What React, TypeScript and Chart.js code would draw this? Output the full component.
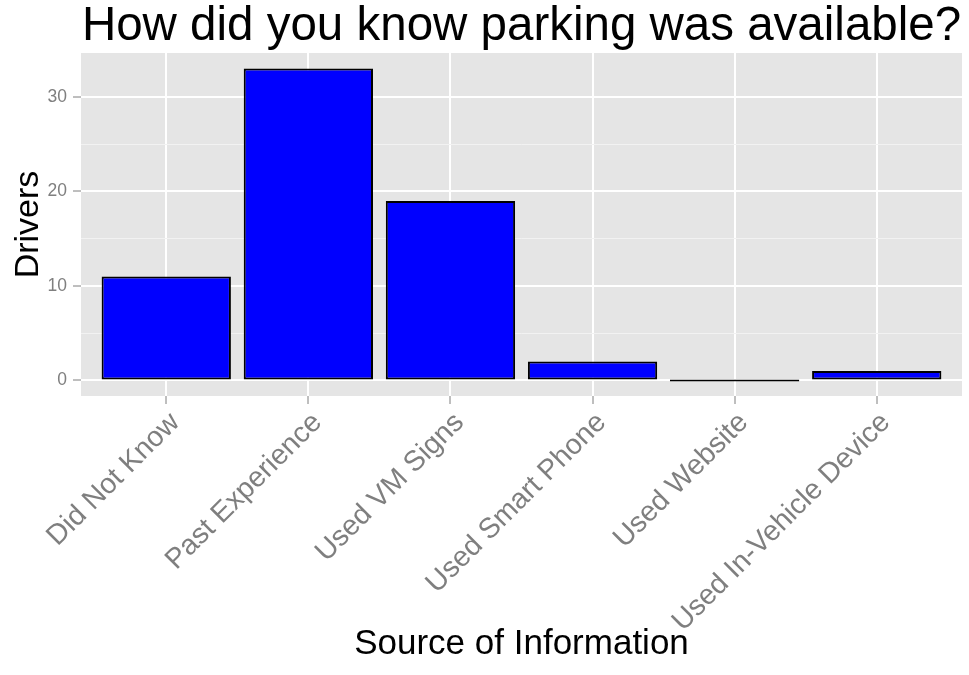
import React, { useEffect, useRef } from 'react';
import { Chart, registerables } from 'chart.js';

Chart.register(...registerables);

const categories = [
  'Did Not Know',
  'Past Experience',
  'Used VM Signs',
  'Used Smart Phone',
  'Used Website',
  'Used In-Vehicle Device',
];
const drivers = [11, 33, 19, 2, 0, 1];
const yTicks = [0, 5, 10, 15, 20, 25, 30];
const yMajor = [0, 10, 20, 30];
const yMin = -1.65;
const yMax = 34.65;
const xMin = -0.6;
const xMax = 5.6;

const FONT = "'Liberation Sans', Arial, Helvetica, sans-serif";

const panelBg = {
  id: 'panelBg',
  beforeDraw(chart: any) {
    const { ctx, chartArea: a } = chart;
    ctx.save();
    ctx.fillStyle = '#E5E5E5';
    ctx.fillRect(a.left, a.top, a.right - a.left, a.bottom - a.top);
    ctx.restore();
  },
};

export default function App() {
  const ref = useRef<HTMLCanvasElement>(null);
  useEffect(() => {
    if (!ref.current) return;
    const isMajor = (v: number) => yMajor.includes(v);
    const chart = new Chart(ref.current, {
      type: 'bar',
      data: {
        datasets: [
          {
            data: drivers.map((v, i) => ({ x: i, y: v })),
            backgroundColor: '#0000FF',
            borderColor: '#000000',
            borderWidth: 2,
            borderSkipped: false,
            barPercentage: 0.91,
            categoryPercentage: 1,
            minBarLength: 2,
          } as any,
        ],
      },
      options: {
        animation: false,
        responsive: false,
        layout: { padding: { left: 0, right: 7, top: 0, bottom: 0 } },
        plugins: {
          legend: { display: false },
          tooltip: { enabled: false },
          title: {
            display: true,
            text: 'How did you know parking was available?',
            fullSize: false,
            color: '#000000',
            font: { family: FONT, size: 47.5, weight: 'normal', lineHeight: 53 / 47.5 },
            padding: 0,
          },
        },
        scales: {
          x: {
            type: 'linear',
            min: xMin,
            max: xMax,
            offset: false,
            afterBuildTicks: (s: any) => {
              s.ticks = categories.map((_, i) => ({ value: i }));
            },
            afterFit: (s: any) => {
              s.height = 279;
            },
            grid: {
              offset: false,
              color: '#FFFFFF',
              lineWidth: 2,
              drawTicks: true,
              tickLength: 8,
              tickColor: '#7F7F7F',
              tickWidth: 1,
            },
            border: { display: false },
            ticks: {
              autoSkip: false,
              maxRotation: 45,
              minRotation: 45,
              color: '#7F7F7F',
              font: { family: FONT, size: 28.5 },
              padding: 2,
              labelOffset: 9,
              callback: (v: any) => categories[v as number] ?? '',
            },
            title: {
              display: true,
              text: 'Source of Information',
              color: '#000000',
              font: { family: FONT, size: 35 },
              padding: { top: 0, bottom: 10 },
            },
          },
          y: {
            min: yMin,
            max: yMax,
            afterBuildTicks: (s: any) => {
              s.ticks = yTicks.map((v) => ({ value: v }));
            },
            afterFit: (s: any) => {
              s.width = 81;
            },
            grid: {
              color: (c: any) => (isMajor(c.tick?.value) ? '#FFFFFF' : '#F2F2F2'),
              lineWidth: (c: any) => (isMajor(c.tick?.value) ? 2 : 1),
              drawTicks: true,
              tickLength: 8,
              tickColor: (c: any) => (isMajor(c.tick?.value) ? '#7F7F7F' : 'rgba(0,0,0,0)'),
              tickWidth: 1,
            },
            border: { display: false },
            ticks: {
              color: '#7F7F7F',
              font: { family: FONT, size: 17.5 },
              padding: 6,
              callback: (v: any) => (isMajor(v as number) ? String(v) : ''),
            },
            title: {
              display: true,
              text: 'Drivers',
              color: '#000000',
              font: { family: FONT, size: 34 },
              padding: { top: 8, bottom: 0 },
            },
          },
        },
      } as any,
      plugins: [panelBg],
    });
    return () => chart.destroy();
  }, []);
  return (
    <div style={{ position: 'absolute', left: 0, top: 0, width: 969, height: 675, background: '#FFFFFF' }}>
      <canvas ref={ref} width={969} height={675} style={{ display: 'block' }} />
    </div>
  );
}
